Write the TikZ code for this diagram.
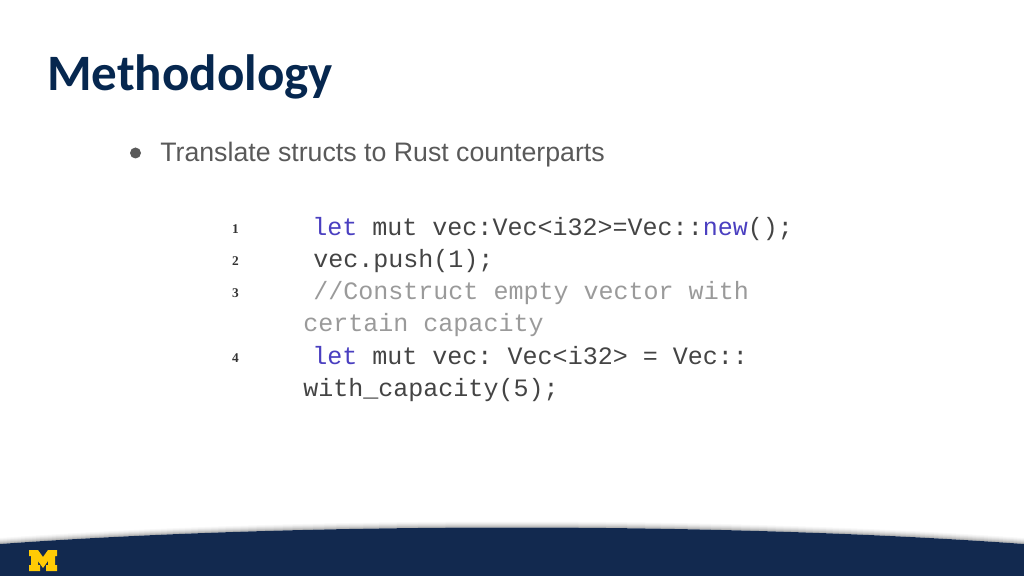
\documentclass[tikz,border=0pt]{standalone}
\usepackage{fontspec}
\usepackage{xcolor}
\setmainfont{Liberation Sans}
\newfontfamily\titlefont{Carlito}
\newfontfamily\codefont{Liberation Mono}
\newfontfamily\numfont{Liberation Serif}
\definecolor{umblue}{HTML}{12294F}
\definecolor{umtitle}{HTML}{06274F}
\definecolor{ummaize}{HTML}{FFCB05}
\definecolor{bodygray}{HTML}{595959}
\definecolor{keyblue}{HTML}{4A3FC0}
\definecolor{codegray}{HTML}{444444}
\definecolor{commentgray}{HTML}{9A9A9A}
\tikzset{
  codeline/.style={anchor=base west,inner sep=0pt,text=codegray,font=\codefont\fontsize{17.8}{20}\selectfont},
  lineno/.style={anchor=base,inner sep=0pt,text=black!80,font=\numfont\bfseries\fontsize{9.5}{11}\selectfont}
}
\newcommand{\kw}[1]{\textcolor{keyblue}{#1}}
\newcommand{\cmt}[1]{\textcolor{commentgray}{#1}}
\begin{document}
\begin{tikzpicture}[x=0.025cm,y=-0.025cm]
  \useasboundingbox (0,0) rectangle (1024,576);
  % footer band
  \foreach \s/\o in {6/0.06,5/0.08,4/0.12,3/0.16,2/0.22,1/0.3}
    \fill[black!45,opacity=\o] (0,544-\s) .. controls (300,\s*-1+522) and (724,\s*-1+522) .. (1024,544-\s) -- (1024,544) .. controls (724,522) and (300,522) .. (0,544) -- cycle;
  \fill[umblue] (0,544) .. controls (300,522) and (724,522) .. (1024,544) -- (1024,576) -- (0,576) -- cycle;
  % block M
  \fill[ummaize] (29,550) -- (38,550) -- (43,557) -- (48,550) -- (57,550) -- (57,556) -- (55,556) -- (55,565) -- (57,565) -- (57,571) -- (46,571) -- (46,565) -- (48,565) -- (48,561) -- (43,568) -- (38,561) -- (38,565) -- (40,565) -- (40,571) -- (29,571) -- (29,565) -- (31,565) -- (31,556) -- (29,556) -- cycle;
  % title and bullet
  \node[anchor=base west,inner sep=0pt,text=umtitle,font=\titlefont\bfseries\fontsize{36.3}{40}\selectfont] (title) at (47,91) {Methodology};
  \node[anchor=base west,inner sep=0pt,text=bodygray,font=\fontsize{19}{23}\selectfont] (bullet) at (160,162) {Translate structs to Rust counterparts};
  \fill[bodygray] (135.5,153) circle (5.5);
  % code
  \node[codeline] (code1) at (312,236) {\kw{let} mut vec:Vec<i32>=Vec::\kw{new}();};
  \node[codeline] (code2) at (313,268) {vec.push(1);};
  \node[codeline] (code3) at (313,300) {\cmt{//Construct empty vector with}};
  \node[codeline] (code3b) at (303,332) {\cmt{certain capacity}};
  \node[codeline] (code4) at (312,364) {\kw{let} mut vec:\hspace{10.8pt}Vec<i32> = Vec::};
  \node[codeline] (code4b) at (303,396) {with\_capacity(5);};
  \foreach \n/\y in {1/234,2/266,3/298,4/362}
    \node[lineno] (num\n) at (235.5,\y) {\n};
\end{tikzpicture}
\end{document}
